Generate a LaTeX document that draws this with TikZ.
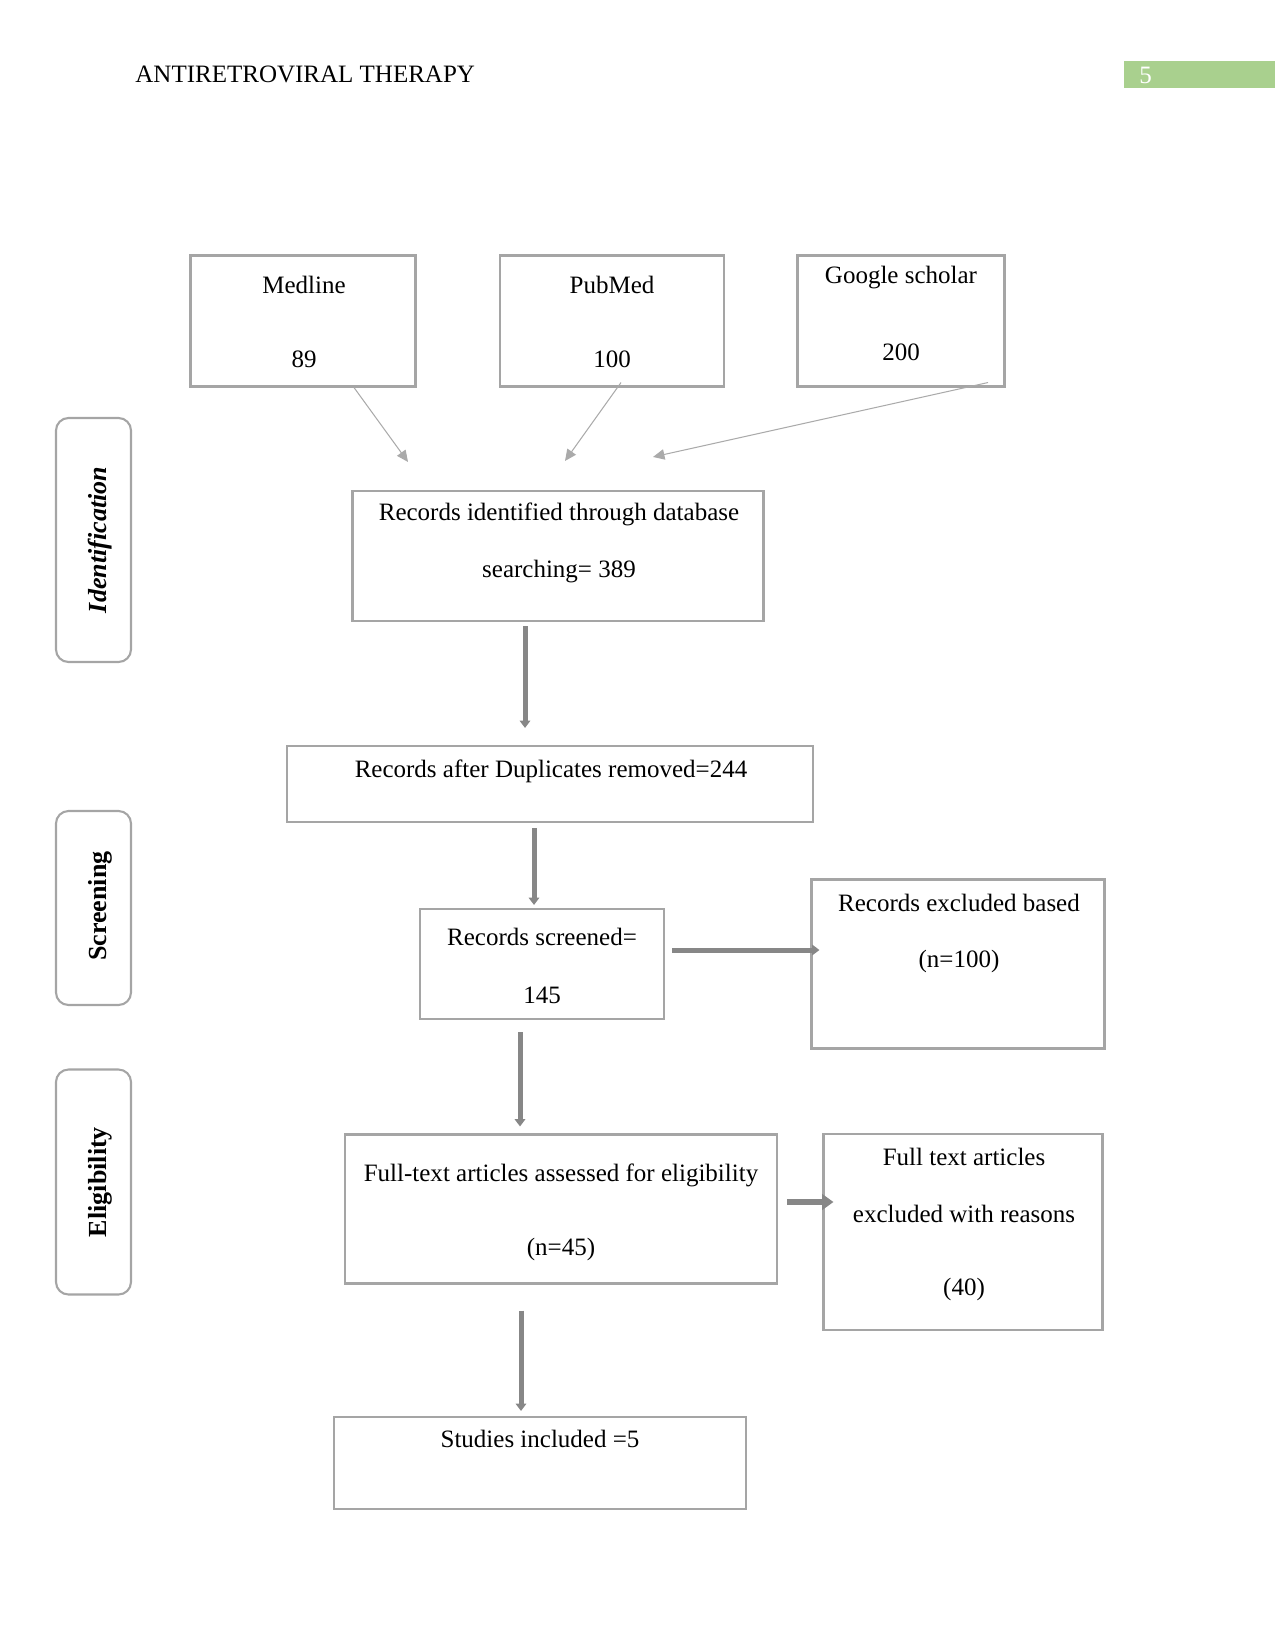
\documentclass[tikz,border=0pt]{standalone}
\usepackage{fontspec}
\setmainfont{Liberation Serif}
\usepackage{xcolor}
\definecolor{boxgray}{RGB}{165,165,165}
\definecolor{linkgray}{RGB}{170,170,170}
\definecolor{fatgray}{RGB}{135,135,135}
\definecolor{pagegreen}{RGB}{169,208,142}
\usetikzlibrary{arrows.meta,calc}
\tikzset{
  box/.style={draw=boxgray,line width=1pt,inner sep=0pt},
  stage/.style={draw=boxgray,line width=1pt,rounded corners=6pt,inner sep=0pt,minimum width=75*0.48pt},
  stagetxt/.style={rotate=90,inner sep=0pt,font=\fontsize{12.5pt}{14pt}\selectfont\bfseries},
  txt/.style={align=center,inner sep=0pt},
  link/.style={-{Triangle[length=5.5pt,width=5pt]},draw=linkgray,line width=0.5pt},
  fat/.style={-{Triangle[length=3.5pt,width=5pt]},draw=fatgray,line width=2.4pt},
}

\begin{document}
\begin{tikzpicture}[x=0.48pt,y=-0.48pt,font=\fontsize{12pt}{14pt}\selectfont]
\useasboundingbox (0,0) rectangle (1275,1651);

% running head
\node[txt,anchor=west] (head) at (135,74) {ANTIRETROVIRAL THERAPY};
\fill[pagegreen] (1124,61) rectangle (1275,88);
\node[txt,anchor=west,text=white] (pnum) at (1139,75) {5};

% databases
\node[box,minimum width=225*0.48pt,minimum height=131*0.48pt] (medline) at (303,321) {};
\node[txt] at (304,285) {Medline};
\node[txt] at (304,359) {89};
\node[box,minimum width=224*0.48pt,minimum height=131*0.48pt] (pubmed) at (612,321) {};
\node[txt] at (612,285) {PubMed};
\node[txt] at (612,359) {100};
\node[box,minimum width=207*0.48pt,minimum height=131*0.48pt] (google) at (901,321) {};
\node[txt] at (901,278) {Google scholar};
\node[txt] at (901,352) {200};

% identification
\node[box,minimum width=411*0.48pt,minimum height=130*0.48pt] (ident) at (558,556) {};
\node[txt] at (559,514) {Records identified through database};
\node[txt] at (559,572) {searching= 389};

\draw[link] ($(medline.south)+(51,0)$) -- ($(ident.north)+(-150,-28)$);
\draw[link] ($(pubmed.south)+(9,-5)$) -- ($(ident.north)+(7,-29)$);
\draw[link] ($(google.south)+(87,-5)$) -- ($(ident.north)+(95,-33)$);

% screening
\node[box,minimum width=526*0.48pt,minimum height=76*0.48pt] (dupl) at (550,784) {};
\node[txt] at (551,771) {Records after Duplicates removed=244};
\node[box,minimum width=244*0.48pt,minimum height=110*0.48pt] (screen) at (542,964) {};
\node[txt] at (542,937) {Records screened=};
\node[txt] at (542,995) {145};
\node[box,minimum width=293*0.48pt,minimum height=169*0.48pt] (excl) at (958,964) {};
\node[txt] at (959,903) {Records excluded based};
\node[txt] at (959,961) {(n=100)};

\draw[fat] ($(ident.south)+(-33,4)$) -- ($(dupl.north)+(-25,-17)$);
\draw[fat] ($(dupl.south)+(-16,5)$) -- ($(screen.north)+(-8,-3)$);
\draw[fat] ($(screen.east)+(7,-14)$) -- ($(excl.west)+(9,-14)$);

% eligibility
\node[box,minimum width=432*0.48pt,minimum height=149*0.48pt] (fulltext) at (561,1209) {};
\node[txt] at (561,1175) {Full-text articles assessed for eligibility};
\node[txt] at (561,1249) {(n=45)};
\node[box,minimum width=279*0.48pt,minimum height=196*0.48pt] (ftexcl) at (963,1232) {};
\node[txt] at (964,1157) {Full text articles};
\node[txt] at (964,1214) {excluded with reasons};
\node[txt] at (964,1289) {(40)};

\draw[fat] ($(screen.south)+(-22,12)$) -- ($(fulltext.north)+(-41,-7)$);
\draw[fat,line width=3pt,-{Triangle[length=5.5pt,width=7.5pt]}] ($(fulltext.east)+(9,-7)$) -- ($(ftexcl.west)+(11,-30)$);

% included
\node[box,minimum width=412*0.48pt,minimum height=92*0.48pt] (incl) at (540,1463) {};
\node[txt] at (540,1439) {Studies included =5};

\draw[fat] ($(fulltext.south)+(-40,26)$) -- ($(incl.north)+(-19,-5)$);

% stage labels
\node[stage,minimum height=244*0.48pt] (stIdent) at (93.5,540) {};
\node[stagetxt] at (100,540) {\itshape Identification};
\node[stage,minimum height=194*0.48pt] (stScreen) at (93.5,908) {};
\node[stagetxt] at (100,906) {Screening};
\node[stage,minimum height=225*0.48pt] (stElig) at (93.5,1182) {};
\node[stagetxt] at (100,1182) {Eligibility};
\end{tikzpicture}
\end{document}
